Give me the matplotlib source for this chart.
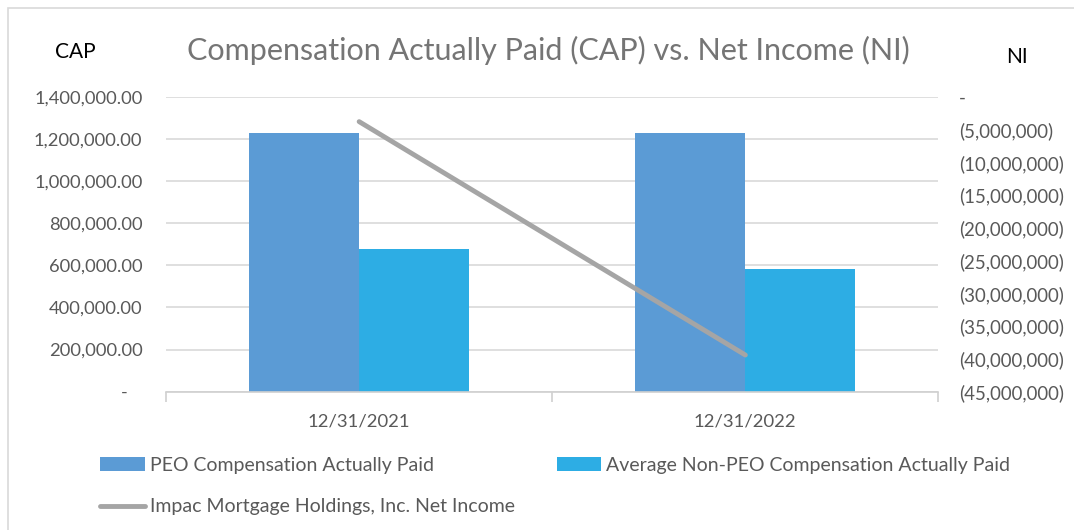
import matplotlib
matplotlib.use("Agg")
from matplotlib import pyplot as plt
from matplotlib.patches import Rectangle
from matplotlib.ticker import FuncFormatter, MultipleLocator
import numpy as np

# data
dates = ['12/31/2021', '12/31/2022']
peo_cap = [1230000, 1230000]
non_peo_cap = [677000, 582000]
net_income = [-3800000, -39400000]

plt.rcParams['font.family'] = ['Lato', 'DejaVu Sans']

gray_txt = '#595959'
c_peo = '#5B9BD5'
c_non = '#2DADE4'
c_line = '#A5A5A5'

fig = plt.figure(figsize=(10.74, 5.30), dpi=100)
ax = fig.add_axes([0.1546, 0.2609, 0.7192, 0.5566])

x = np.arange(len(dates))
w = 0.285
ax.bar(x - w / 2, peo_cap, w, color=c_peo, label='PEO Compensation Actually Paid', zorder=2)
ax.bar(x + w / 2, non_peo_cap, w, color=c_non, label='Average Non-PEO Compensation Actually Paid', zorder=2)
ax.set_xlim(-0.5, 1.5)
ax.set_ylim(0, 1400000)
ax.yaxis.set_major_locator(MultipleLocator(200000))
ax.yaxis.set_major_formatter(FuncFormatter(lambda v, p: '-   ' if v == 0 else '{:,.2f}'.format(v)))
ax.grid(axis='y', color='#D9D9D9', lw=1.2, zorder=0)
ax.set_axisbelow(True)
for s in ['top', 'left', 'right']:
    ax.spines[s].set_visible(False)
ax.spines['bottom'].set_color('#D0D0D0')
ax.spines['bottom'].set_linewidth(1.2)
ax.set_xticks([-0.5, 0.5, 1.5])
ax.set_xticklabels([])
ax.set_xticks(x, minor=True)
ax.set_xticklabels(dates, minor=True)
ax.tick_params(axis='x', which='major', length=7, color='#D0D0D0', width=1.2)
ax.tick_params(axis='x', which='minor', length=0, pad=16, labelsize=13.3, labelcolor=gray_txt)
ax.tick_params(axis='y', length=0, pad=17, labelsize=13.2, labelcolor=gray_txt)

ax2 = ax.twinx()
ax2.plot(x, net_income, color=c_line, lw=3.5, solid_capstyle='round', zorder=3,
         label='Impac Mortgage Holdings, Inc. Net Income')
ax2.set_ylim(-45000000, 0)
ax2.yaxis.set_major_locator(MultipleLocator(5000000))
ax2.yaxis.set_major_formatter(FuncFormatter(lambda v, p: '-' if v == 0 else '({:,.0f})'.format(abs(v))))
for s in ['top', 'left', 'right', 'bottom']:
    ax2.spines[s].set_visible(False)
ax2.tick_params(axis='y', length=0, pad=15, labelsize=13.4, labelcolor=gray_txt)

fig.text(548 / 1074, 1 - 50 / 530, 'Compensation Actually Paid (CAP) vs. Net Income (NI)',
         ha='center', va='center', fontsize=22, color='#757575')
fig.text(75 / 1074, 1 - 52 / 530, 'CAP', ha='center', va='center', fontsize=15, color='black')
fig.text(1017 / 1074, 1 - 57 / 530, 'NI', ha='center', va='center', fontsize=15, color='black')

h1, l1 = ax.get_legend_handles_labels()
h2, l2 = ax2.get_legend_handles_labels()
fig.legend([h1[0], h2[0], h1[1]], [l1[0], l2[0], l1[1]], ncol=2,
           loc='upper left', bbox_to_anchor=(100 / 1074, 1 - 457 / 530),
           frameon=False, fontsize=14, labelcolor=gray_txt, handlelength=2.3,
           handletextpad=0.26, columnspacing=2.15, labelspacing=1.25,
           borderpad=0, borderaxespad=0)

fig.patches.append(Rectangle((8 / 1074, -0.1), 1.2, 1 - 8 / 530 + 0.1, transform=fig.transFigure,
                             fill=False, edgecolor='#D9D9D9', lw=1.2))

fig.savefig('out.png', dpi=100)
